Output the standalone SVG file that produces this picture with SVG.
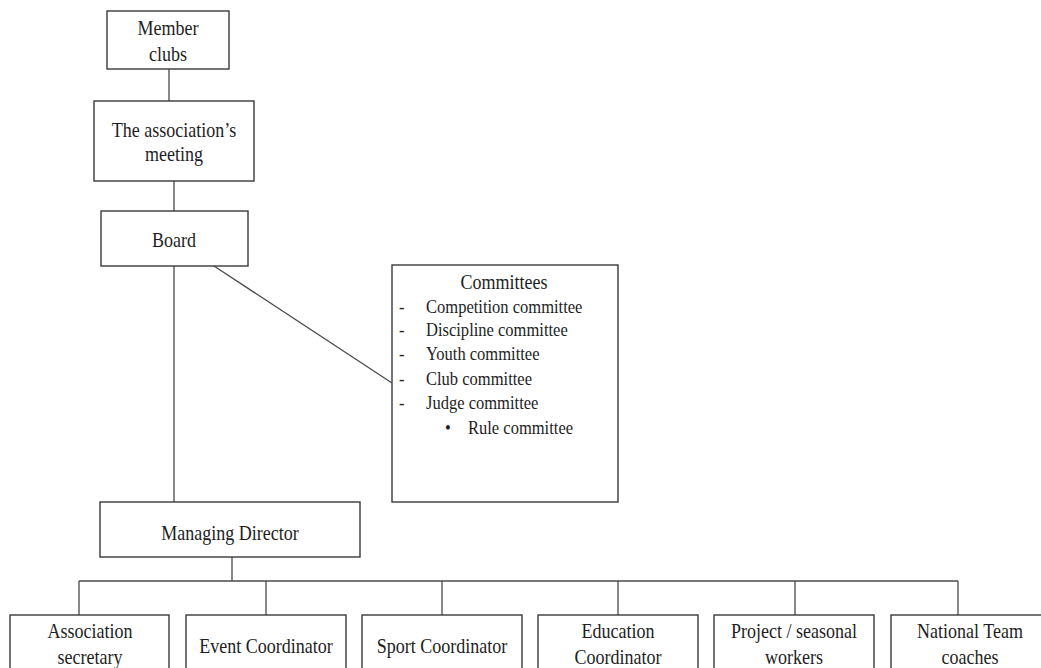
<svg xmlns="http://www.w3.org/2000/svg" width="1041" height="668" viewBox="0 0 1041 668">
<style>
.box{fill:#fff;stroke:#3a3a3a;stroke-width:1.4}
.ln{fill:none;stroke:#4a4a4a;stroke-width:1.3}
text{font-family:"Liberation Serif","Times New Roman",serif;fill:#1e1e1e;font-size:20.7px}
.c{text-anchor:middle}
.li{font-size:19px}
</style>
<rect width="1041" height="668" fill="#fff"/>
<g id="connectors">
<line class="ln" x1="169" y1="69" x2="169" y2="101"/>
<line class="ln" x1="174" y1="181" x2="174" y2="211"/>
<line class="ln" x1="174" y1="266" x2="174" y2="502"/>
<line class="ln" x1="214" y1="266" x2="392" y2="383"/>
<line class="ln" x1="232" y1="557" x2="232" y2="581"/>
<line class="ln" x1="79" y1="581" x2="958" y2="581"/>
<line class="ln" x1="79" y1="581" x2="79" y2="615"/>
<line class="ln" x1="266" y1="581" x2="266" y2="615"/>
<line class="ln" x1="442" y1="581" x2="442" y2="615"/>
<line class="ln" x1="618" y1="581" x2="618" y2="615"/>
<line class="ln" x1="795" y1="581" x2="795" y2="615"/>
<line class="ln" x1="958" y1="581" x2="958" y2="615"/>
</g>
<g id="member-clubs">
<rect class="box" x="107" y="11" width="122" height="58"/>
<text class="c" transform="translate(168 35) scale(.87 1)">Member</text>
<text class="c" transform="translate(168 61) scale(.87 1)">clubs</text>
</g>
<g id="association-meeting">
<rect class="box" x="94" y="101" width="160" height="80"/>
<text class="c" transform="translate(174 137) scale(.87 1)">The association’s</text>
<text class="c" transform="translate(174 161) scale(.87 1)">meeting</text>
</g>
<g id="board">
<rect class="box" x="101" y="211" width="147" height="55"/>
<text class="c" transform="translate(174 247) scale(.87 1)">Board</text>
</g>
<g id="committees">
<rect class="box" x="392" y="265" width="226" height="237"/>
<text class="c" transform="translate(504 289) scale(.87 1)">Committees</text>
<text class="li" transform="translate(399 313) scale(.87 1)">-</text><text class="li" transform="translate(426 313) scale(.87 1)">Competition committee</text>
<text class="li" transform="translate(399 336) scale(.87 1)">-</text><text class="li" transform="translate(426 336) scale(.87 1)">Discipline committee</text>
<text class="li" transform="translate(399 360) scale(.87 1)">-</text><text class="li" transform="translate(426 360) scale(.87 1)">Youth committee</text>
<text class="li" transform="translate(399 385) scale(.87 1)">-</text><text class="li" transform="translate(426 385) scale(.87 1)">Club committee</text>
<text class="li" transform="translate(399 409) scale(.87 1)">-</text><text class="li" transform="translate(426 409) scale(.87 1)">Judge committee</text>
<text class="li" transform="translate(445 434) scale(.87 1)">•</text><text class="li" transform="translate(468 434) scale(.87 1)">Rule committee</text>
</g>
<g id="managing-director">
<rect class="box" x="100" y="502" width="260" height="55"/>
<text class="c" transform="translate(230 540) scale(.87 1)">Managing Director</text>
</g>
<g id="association-secretary">
<rect class="box" x="10" y="615" width="159" height="70"/>
<text class="c" transform="translate(90 638) scale(.87 1)">Association</text>
<text class="c" transform="translate(90 664) scale(.87 1)">secretary</text>
</g>
<g id="event-coordinator">
<rect class="box" x="186" y="615" width="160" height="70"/>
<text class="c" transform="translate(266 653) scale(.87 1)">Event Coordinator</text>
</g>
<g id="sport-coordinator">
<rect class="box" x="362" y="615" width="160" height="70"/>
<text class="c" transform="translate(442 653) scale(.87 1)">Sport Coordinator</text>
</g>
<g id="education-coordinator">
<rect class="box" x="538" y="615" width="160" height="70"/>
<text class="c" transform="translate(618 638) scale(.87 1)">Education</text>
<text class="c" transform="translate(618 664) scale(.87 1)">Coordinator</text>
</g>
<g id="project-workers">
<rect class="box" x="714" y="615" width="160" height="70"/>
<text class="c" transform="translate(794 638) scale(.87 1)">Project / seasonal</text>
<text class="c" transform="translate(794 664) scale(.87 1)">workers</text>
</g>
<g id="national-team-coaches">
<rect class="box" x="891" y="615" width="160" height="70"/>
<text class="c" transform="translate(970 638) scale(.87 1)">National Team</text>
<text class="c" transform="translate(970 664) scale(.87 1)">coaches</text>
</g>
</svg>
